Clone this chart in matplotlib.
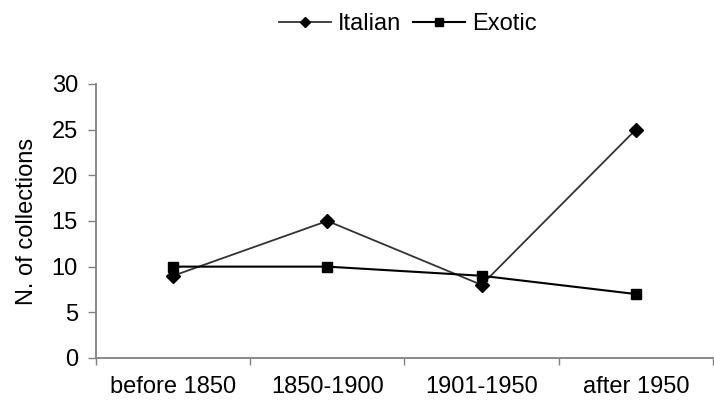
import matplotlib
matplotlib.use("Agg")
import matplotlib.pyplot as plt

periods = ["before 1850", "1850-1900", "1901-1950", "after 1950"]
italian = [9, 15, 8, 25]
exotic = [10, 10, 9, 7]

plt.rcParams['font.family'] = ['Liberation Sans', 'DejaVu Sans']
fs = 17

fig = plt.figure(figsize=(7.14, 4.03), dpi=100)
ax = fig.add_axes([0.1345, 0.1117, 0.864, 0.68])

x = list(range(len(periods)))
ax.plot(x, italian, color='#333333', lw=1.3, marker='D', ms=7, mfc='black', mec='black', label='Italian')
ax.plot(x, exotic, color='black', lw=1.5, marker='s', ms=7, mfc='black', mec='black', label='Exotic')

ax.set_xlim(-0.5, len(periods) - 0.5)
ax.set_ylim(0, 30)
ax.set_yticks(range(0, 31, 5))
ax.set_xticks(x)
ax.set_xticklabels(periods, fontsize=fs)
ax.set_xticks([i + 0.5 for i in range(-1, len(periods))], minor=True)
ax.tick_params(axis='x', which='major', length=0, pad=13)
ax.tick_params(axis='x', which='minor', length=5, width=1, color='#808080', direction='out')
ax.tick_params(axis='y', labelsize=fs, length=6, width=1, color='#808080', direction='out', pad=7)
ax.set_ylabel('N. of collections', fontsize=fs, labelpad=10)

for side in ['top', 'right']:
    ax.spines[side].set_visible(False)
for side in ['left', 'bottom']:
    ax.spines[side].set_color('#808080')
    ax.spines[side].set_linewidth(1.3)

fig.legend(loc='center', bbox_to_anchor=(0.571, 0.94), ncol=2, frameon=False,
           fontsize=fs, handlelength=2.2, handletextpad=0.3, columnspacing=0.5,
           markerscale=0.75)

fig.savefig('out.png', dpi=100)
